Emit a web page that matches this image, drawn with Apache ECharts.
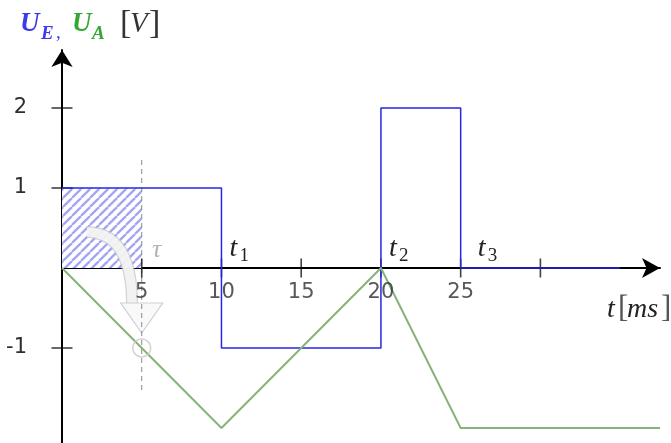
<!DOCTYPE html>
<html>
<head>
<meta charset="utf-8">
<script src="https://cdn.jsdelivr.net/npm/echarts@6/dist/echarts.min.js"></script>
<style>
  html, body { margin: 0; padding: 0; background: #fff; }
  #chart { width: 671px; height: 443px; }
</style>
</head>
<body>
<div id="chart"></div>
<script>
// input voltage U_E (step signal)
const inputX = [0, 10, 10, 20, 20, 25, 25, 35];
const inputY = [1, 1, -1, -1, 2, 2, 0, 0];
// output voltage U_A
const outputX = [0, 10, 20, 25, 37.5];
const outputY = [0, -2, 0, -2, -2];
// hatched area under U_E until tau
const hatchX = [0, 5];
const hatchY = [1, 1];
const tau = 5;
const tauGuide = [1.35, -1.55];
const tauPoint = -1;
// axes
const xTicks = [5, 10, 15, 20, 25, 30];
const xLabels = [5, 10, 15, 20, 25];
const yTicks = [-1, 1, 2];
const timeMarks = [10, 20, 25];
const timeNames = ['1', '2', '3'];

const BLUE = '#2626e8';
const GREEN = '#86b377';
const serif = "'Liberation Serif', 'DejaVu Serif', serif";
const sans = "'DejaVu Sans', sans-serif";

/* ------------------------------ hatch pattern ----------------------------- */
const makeHatch = () => {
  const s = 9;
  const c = document.createElement('canvas');
  c.width = s;
  c.height = s;
  const ctx = c.getContext('2d');
  ctx.fillStyle = '#ffffff';
  ctx.fillRect(0, 0, s, s);
  ctx.strokeStyle = '#a4a4f5';
  ctx.lineWidth = 2.3;
  [-s, 0, s].forEach(o => {
    ctx.beginPath();
    ctx.moveTo(o, s);
    ctx.lineTo(o + s, 0);
    ctx.stroke();
  });
  return c;
};

const zip = (xs, ys) => xs.map((x, i) => [x, ys[i]]);

const chart = echarts.init(document.getElementById('chart'), null, { renderer: 'canvas' });

const txt = (x, y, text, font, fill, align = 'left') => ({
  type: 'text',
  x,
  y,
  silent: true,
  z: 50,
  style: { text, font, fill, align, verticalAlign: 'top' }
});

chart.setOption({
  animation: false,
  grid: { left: 62, width: 598, top: 50, height: 393, containLabel: false, outerBoundsMode: 'none' },
  xAxis: {
    type: 'value',
    min: 0,
    max: 37.5,
    axisLine: {
      onZero: true,
      symbol: ['none', 'arrow'],
      symbolSize: [15, 18],
      lineStyle: { color: '#000', width: 2 }
    },
    axisTick: { show: false },
    splitLine: { show: false },
    axisLabel: { show: false }
  },
  yAxis: {
    type: 'value',
    min: -2.1875,
    max: 2.725,
    axisLine: {
      onZero: true,
      symbol: ['none', 'arrow'],
      symbolSize: [16, 17],
      lineStyle: { color: '#000', width: 2 }
    },
    axisTick: { show: false },
    splitLine: { show: false },
    axisLabel: {
      customValues: yTicks,
      margin: 35,
      color: '#2e2e2e',
      fontSize: 21,
      fontFamily: sans
    }
  },
  series: [
    {
      name: 'hatch',
      type: 'line',
      data: zip(hatchX, hatchY),
      showSymbol: false,
      lineStyle: { width: 0 },
      areaStyle: { color: { image: makeHatch(), repeat: 'repeat' }, opacity: 1 },
      z: 1
    },
    {
      name: 'tau guide',
      type: 'line',
      data: tauGuide.map(v => [tau, v]),
      showSymbol: false,
      lineStyle: { color: '#8a8a8a', width: 1, type: [5, 4] },
      z: 2
    },
    {
      name: 'x ticks',
      type: 'scatter',
      data: xTicks.map(v => [v, 0]),
      symbol: 'rect',
      symbolSize: [1.6, 19],
      itemStyle: { color: '#111' },
      z: 3
    },
    {
      name: 'x labels',
      type: 'scatter',
      data: xLabels.map(v => [v, 0]),
      symbol: 'rect',
      symbolSize: 1,
      itemStyle: { color: 'rgba(0,0,0,0)' },
      label: {
        show: true,
        position: 'bottom',
        distance: 14,
        formatter: p => p.value[0],
        color: '#2e2e2e',
        fontSize: 21,
        fontFamily: sans
      },
      z: 8
    },
    {
      name: 'y ticks',
      type: 'scatter',
      data: yTicks.map(v => [0, v]),
      symbol: 'rect',
      symbolSize: [21, 1.6],
      itemStyle: { color: '#111' },
      z: 3
    },
    {
      name: 'U_E',
      type: 'line',
      data: zip(inputX, inputY),
      showSymbol: false,
      lineStyle: { color: BLUE, width: 1.5 },
      z: 5
    },
    {
      name: 'U_A',
      type: 'line',
      data: zip(outputX, outputY),
      showSymbol: false,
      lineStyle: { color: GREEN, width: 2 },
      z: 6
    },
    {
      name: 'tau point',
      type: 'scatter',
      data: [[tau, tauPoint]],
      symbol: 'circle',
      symbolSize: 18,
      itemStyle: { color: 'rgba(255,255,255,0)', borderColor: '#c8c8c8', borderWidth: 1.5 },
      z: 7
    }
  ]
});

/* ----------------------------- annotations ------------------------------ */
const px = (x, y) => chart.convertToPixel({ gridIndex: 0 }, [x, y]);
const origin = px(0, 0);
const tOffsets = [8, 8, 17];

const graphics = [];
// title
graphics.push(txt(20, 11, 'U', 'italic bold 27px ' + serif, '#3a3aee'));
graphics.push(txt(41, 25, 'E', 'italic bold 19px ' + serif, '#3a3aee'));
graphics.push(txt(56, 24, ',', '19px ' + serif, '#3a3aee'));
graphics.push(txt(72, 11, 'U', 'italic bold 27px ' + serif, '#33a633'));
graphics.push(txt(92, 25, 'A', 'italic bold 19px ' + serif, '#33a633'));
graphics.push(txt(120, 7, '[', '34px ' + serif, '#333'));
graphics.push(txt(130, 10, 'V', 'italic 29px ' + serif, '#333'));
graphics.push(txt(149, 7, ']', '34px ' + serif, '#333'));

// time marks t1, t2, t3
timeMarks.forEach((m, i) => {
  const p = px(m, 0);
  graphics.push(txt(p[0] + tOffsets[i], origin[1] - 33, 't', 'italic 28px ' + serif, '#222'));
  graphics.push(txt(p[0] + tOffsets[i] + 10, origin[1] - 21, timeNames[i], '19px ' + serif, '#222'));
});

// axis name t[ms]
graphics.push(txt(607, 296, 't', 'italic 28px ' + serif, '#222'));
graphics.push(txt(618, 293, '[', '31px ' + serif, '#555'));
graphics.push(txt(627, 296, 'ms', 'italic 28px ' + serif, '#222'));
graphics.push(txt(661, 293, ']', '31px ' + serif, '#555'));

// tau label
graphics.push(txt(152, origin[1] - 31, 'τ', 'italic 26px ' + serif, '#b4b4b4'));

// faint hollow curved arrow from the hatched area down to the tau point
const cp = px(tau, tauPoint);
const curve = { x1: 87, y1: 232, cpx1: 132, cpy1: 233, x2: 132, y2: 304 };
graphics.push({
  type: 'bezierCurve',
  silent: true,
  z: 2,
  shape: curve,
  style: { stroke: '#c6c6c6', lineWidth: 12, fill: null, opacity: 0.75 }
});
graphics.push({
  type: 'bezierCurve',
  silent: true,
  z: 2,
  shape: curve,
  style: { stroke: '#f8f8f8', lineWidth: 9.5, fill: null, opacity: 0.85 }
});
graphics.push({
  type: 'polygon',
  silent: true,
  z: 2,
  shape: { points: [[cp[0] - 21, 303], [cp[0] + 21, 303], [cp[0], cp[1] - 15]] },
  style: { stroke: '#c4c4c4', lineWidth: 1.2, fill: '#f8f8f8', opacity: 0.8 }
});

chart.setOption({ graphic: graphics });
</script>
</body>
</html>
